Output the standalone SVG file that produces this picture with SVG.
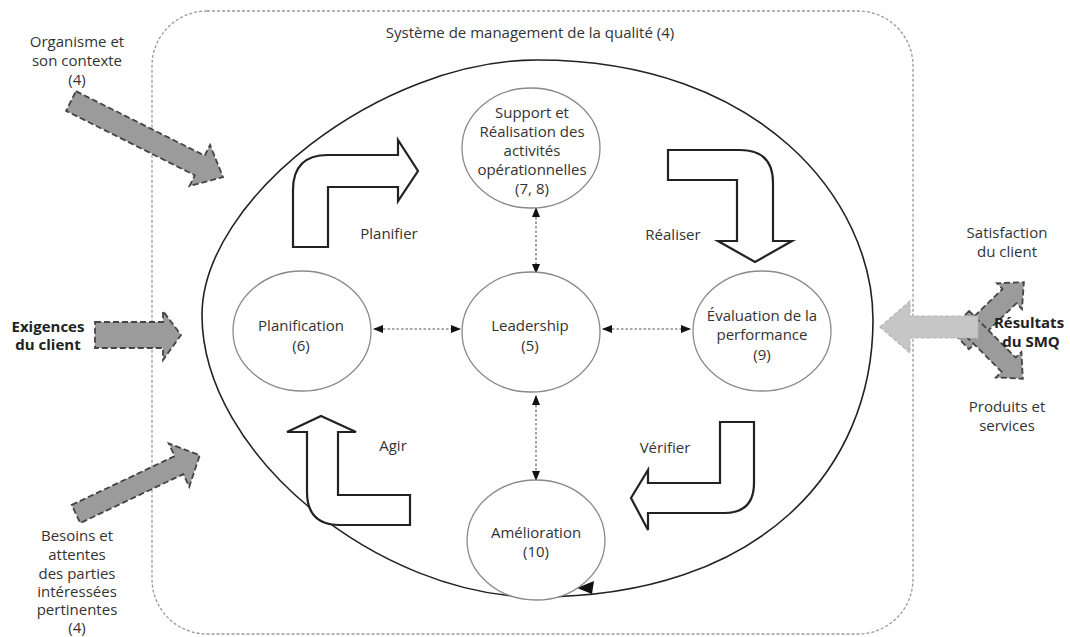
<svg xmlns="http://www.w3.org/2000/svg" width="1070" height="637" viewBox="0 0 1070 637">
<style>
text{font-family:"Open Sans","Liberation Sans",sans-serif;font-size:15px;fill:#333;text-anchor:middle}
.b{font-weight:bold;fill:#222}
.node{fill:#fff;stroke:#8a8a8a;stroke-width:1.3}
.bent{fill:#fff;stroke:#222;stroke-width:2.2;stroke-linejoin:miter}
.gray{fill:#9b9b9b;stroke:#444;stroke-width:1.8;stroke-dasharray:6 3}
.light{fill:#c6c6c6;stroke:#b5b5b5;stroke-width:1.2;stroke-dasharray:4 2}
.conn{stroke:#555;stroke-width:1.1;stroke-dasharray:2.5 2;fill:none}
</style>
<defs>
<marker id="ah" markerUnits="userSpaceOnUse" markerWidth="10" markerHeight="10" refX="9" refY="5" orient="auto-start-reverse">
<path d="M0,1 L10,5 L0,9 Z" fill="#111"/>
</marker>
</defs>
<g id="smq-frame">
<rect x="152" y="11" width="761" height="623" rx="55" fill="none" stroke="#999" stroke-width="1.3" stroke-dasharray="3 2"/>
<text x="530" y="38">Système de management de la qualité (4)</text>
</g>
<g id="cycle">
<path d="M537,60 C760,60 873,200 873,320 C873,470 760,597 537,597 C380,597 202,455 202,315 C202,200 380,60 537,60 Z" fill="none" stroke="#222" stroke-width="1.6"/>
<path d="M577,588 L594,581 L592,594 Z" fill="#111"/>
</g>
<g id="input-arrows">
<g id="organisme">
<path class="gray" transform="translate(71,101) rotate(26.6)" d="M0,-11 L144,-11 L144,-23 L170,0 L144,23 L144,11 L0,11 Z"/>
<text x="77" y="47">Organisme et</text>
<text x="77" y="66">son contexte</text>
<text x="77" y="85">(4)</text>
</g>
<g id="exigences">
<path class="gray" d="M95,322 L163,322 L163,311 L181,335 L163,360 L163,348 L95,348 Z"/>
<text class="b" x="48" y="332">Exigences</text>
<text class="b" x="48" y="350">du client</text>
</g>
<g id="besoins">
<path class="gray" transform="translate(76,514) rotate(-25.4)" d="M0,-10 L114,-10 L114,-24 L137,0 L114,24 L114,10 L0,10 Z"/>
<text x="77" y="541">Besoins et</text>
<text x="77" y="560">attentes</text>
<text x="77" y="579">des parties</text>
<text x="77" y="597">intéressées</text>
<text x="77" y="615">pertinentes</text>
<text x="77" y="633">(4)</text>
</g>
</g>
<g id="resultats">
<path class="gray" transform="translate(962,342) rotate(-44)" d="M0,-10 L66,-10 L66,-18 L86,0 L66,18 L66,10 L0,10 Z"/>
<path class="gray" transform="translate(962,318) rotate(45)" d="M0,-10 L66,-10 L66,-18 L86,0 L66,18 L66,10 L0,10 Z"/>
<path class="light" d="M880,327 L910,301 L910,316 L978,316 L978,338 L910,338 L910,353 Z"/>
<text x="1007" y="238">Satisfaction</text>
<text x="1007" y="257">du client</text>
<text class="b" x="1029" y="328">Résultats</text>
<text class="b" x="1031" y="347">du SMQ</text>
<text x="1007" y="412">Produits et</text>
<text x="1007" y="431">services</text>
</g>
<g id="pdca-arrows">
<g id="planifier">
<path class="bent" d="M293,247 L293,190 Q293,155 328,155 L398,155 L398,140 L418,171 L398,201 L398,187 L328,187 L328,247 Z"/>
<text x="389" y="239">Planifier</text>
</g>
<g id="realiser">
<path class="bent" d="M668,150 L740,150 Q773,150 773,183 L773,241 L792,241 L755,262 L718,241 L737,241 L737,180 L668,180 Z"/>
<text x="673" y="240">Réaliser</text>
</g>
<g id="verifier">
<path class="bent" d="M720,422 L754,422 L754,483 Q754,513 724,513 L648,513 L648,530 L631,498 L648,470 L648,483 L720,483 Z"/>
<text x="665" y="453">Vérifier</text>
</g>
<g id="agir">
<path class="bent" d="M307,432 L287,432 L321,416 L356,432 L338,432 L338,495 L410,495 L410,525 L340,525 Q307,525 307,492 Z"/>
<text x="393" y="451">Agir</text>
</g>
</g>
<g id="connectors">
<line class="conn" x1="374" y1="329" x2="460" y2="329" marker-start="url(#ah)" marker-end="url(#ah)"/>
<line class="conn" x1="603" y1="329" x2="690" y2="329" marker-start="url(#ah)" marker-end="url(#ah)"/>
<line class="conn" x1="536" y1="208" x2="536" y2="273" marker-start="url(#ah)" marker-end="url(#ah)"/>
<line class="conn" x1="536" y1="396" x2="536" y2="480" marker-start="url(#ah)" marker-end="url(#ah)"/>
</g>
<g id="support">
<ellipse class="node" cx="531" cy="148" rx="69" ry="60"/>
<text x="532" y="118">Support et</text>
<text x="532" y="137">Réalisation des</text>
<text x="532" y="156">activités</text>
<text x="532" y="175">opérationnelles</text>
<text x="532" y="194">(7, 8)</text>
</g>
<g id="planification">
<ellipse class="node" cx="302" cy="331" rx="69" ry="60"/>
<text x="301" y="331">Planification</text>
<text x="301" y="351">(6)</text>
</g>
<g id="leadership">
<ellipse class="node" cx="531" cy="332" rx="69" ry="60"/>
<text x="530" y="331">Leadership</text>
<text x="530" y="351">(5)</text>
</g>
<g id="evaluation">
<ellipse class="node" cx="762" cy="331" rx="69" ry="60"/>
<text x="762" y="321">Évaluation de la</text>
<text x="762" y="340">performance</text>
<text x="762" y="360">(9)</text>
</g>
<g id="amelioration">
<ellipse class="node" cx="536" cy="540" rx="69" ry="60"/>
<text x="536" y="538">Amélioration</text>
<text x="536" y="557">(10)</text>
</g>
</svg>
